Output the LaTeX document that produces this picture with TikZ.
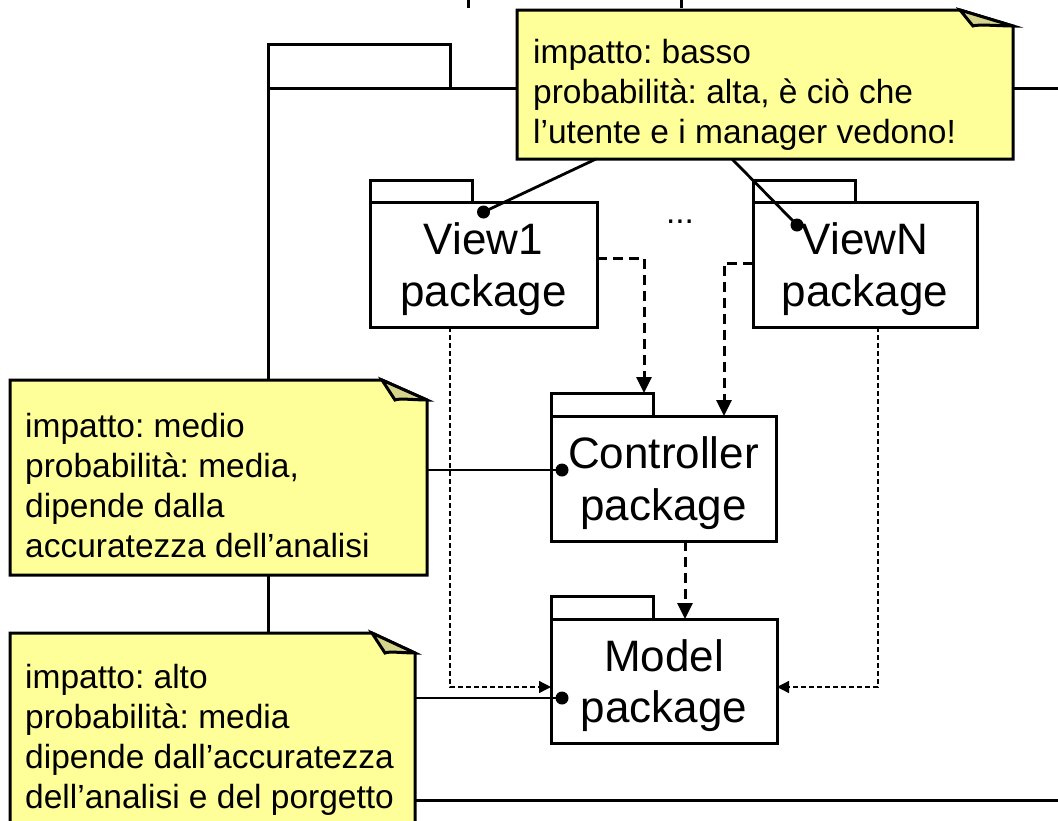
\documentclass[tikz,border=0pt]{standalone}
\usepackage{fontspec}
\setmainfont{Liberation Sans}
\usetikzlibrary{arrows.meta}
\definecolor{notefill}{RGB}{255,255,153}
\definecolor{foldfill}{RGB}{212,212,140}
\newcommand\pkgfont{\fontsize{44}{51.5}\selectfont}
\newcommand\notefont{\frenchspacing\fontsize{33.5}{40}\selectfont}
% note with a dog-eared top right corner: #1 node name, #2 fold width, #3 fold height
\newcommand\foldnote[3]{%
  \path (#1.north east) ++(-#2,0) coordinate (fA)
        (#1.north east) ++(0,#3) coordinate (fB)
        (#1.north east) ++({-#2+13},#3) coordinate (fC);
  \draw[noteline, fill=notefill] (#1.north west) -- (fA) -- (fB)
        -- (#1.south east) -- (#1.south west) -- cycle;
  \draw[noteline, fill=foldfill] (fA) -- (fC)
        .. controls +(4,-2) and +(-12,0) .. (fB) -- cycle;
}
\begin{document}
\begin{tikzpicture}[x=1pt,y=-1pt,
  pkg/.style={draw, line width=3pt, fill=white, inner sep=0pt, outer sep=0pt,
              align=center, font=\pkgfont, text depth=0pt},
  pkgtab/.style={draw, line width=3pt, fill=white, inner sep=0pt, outer sep=0pt,
              minimum width=102pt, minimum height=23pt, anchor=south west},
  notebox/.style={inner sep=0pt, outer sep=0pt, anchor=north west},
  noteline/.style={draw, line width=3pt, line join=miter},
  notetext/.style={inner sep=0pt, anchor=north west, align=left, font=\notefont},
  noteconn/.style={line width=2.8pt},
  depthick/.style={line width=3pt, dash pattern=on 10pt off 6pt,
              -{Triangle[length=16pt,width=15pt]}},
  depthin/.style={line width=1.3pt, dash pattern=on 5pt off 3pt,
              -{Triangle[length=12pt,width=12pt]}},
  dot/.style={fill=black}
]
\useasboundingbox (0,0) rectangle (1058,820);
\clip (0,0) rectangle (1058,820);

% enclosing system package
\node[pkg, minimum width=850pt, minimum height=712pt, anchor=north west] (sys) at (268,88) {};
\node[pkgtab, minimum width=182pt, minimum height=44pt] (systab) at (sys.north west) {};
\draw[line width=3pt] (468,-5) -- (468,8);
\draw[line width=3pt] (681,-5) -- (681,8);

% notes
\node[notebox, minimum width=496pt, minimum height=149pt] (nTop) at (517,10) {};
\foldnote{nTop}{53}{16}
\node[notetext] (tTop) at (533,39.5)
  {impatto: basso\\probabilità: alta, è ciò che\\l’utente e i manager vedono!};

\node[notebox, minimum width=417pt, minimum height=195pt] (nMid) at (10,380) {};
\foldnote{nMid}{45}{20}
\node[notetext] (tMid) at (25,413)
  {impatto: medio\\probabilità: media,\\dipende dalla\\accuratezza dell’analisi};

\node[notebox, minimum width=405pt, minimum height=210pt] (nBot) at (10,633) {};
\foldnote{nBot}{43}{20}
\node[notetext] (tBot) at (25,664)
  {impatto: alto\\probabilità: media\\dipende dall’accuratezza\\dell’analisi e del porgetto};

% packages
\node[pkg, minimum width=227pt, minimum height=125pt] (v1) at (483.5,264.5) {View1\\package};
\node[pkgtab, minimum height=22pt] (v1tab) at (v1.north west) {};
\node[pkg, minimum width=224pt, minimum height=125pt] (vn) at (865,264.5) {ViewN\\package};
\node[pkgtab, minimum height=22pt] (vntab) at (vn.north west) {};
\node[pkg, minimum width=225pt, minimum height=125pt] (ctrl) at (663.5,478.5) {Controller\\package};
\node[pkgtab] (ctrltab) at (ctrl.north west) {};
\node[pkg, minimum width=226pt, minimum height=124pt] (model) at (664,681) {Model\\package};
\node[pkgtab] (modeltab) at (model.north west) {};
\node[font=\notefont, anchor=base, inner sep=0pt] (dots) at (680,223) {...};

% dependencies
\draw[depthick] ([yshift=6.5pt]v1.east) -| ([xshift=-9pt]ctrltab.north east);
\draw[depthick] ([yshift=1.5pt]vn.west) -| ([xshift=-52pt]ctrl.north east);
\draw[depthick] ([xshift=21.5pt]ctrl.south) -- ([xshift=21.5pt]ctrl.south |- model.north);
\draw[depthin] ([xshift=-33.5pt]v1.south) |- ([yshift=-6pt]model.west);
\draw[depthin] ([xshift=13pt]vn.south) |- ([yshift=-6pt]model.east);

% note anchors
\coordinate (d1) at ([yshift=-10pt]v1.north);
\coordinate (dn) at ([xshift=44pt,yshift=-23pt]vn.north west);
\coordinate (dc) at ([xshift=11pt,yshift=8.5pt]ctrl.west);
\coordinate (dm) at ([xshift=11pt,yshift=-17pt]model.west);
\draw[noteconn] ([xshift=79pt]nTop.south west) -- (d1);
\draw[noteconn] ([xshift=215pt]nTop.south west) -- (dn);
\draw[noteconn] (nMid.east |- dc) -- (dc);
\draw[noteconn] (nBot.east |- dm) -- (dm);
\foreach \d in {d1,dn,dc,dm} \fill[dot] (\d) circle[radius=6.5];
\end{tikzpicture}
\end{document}
